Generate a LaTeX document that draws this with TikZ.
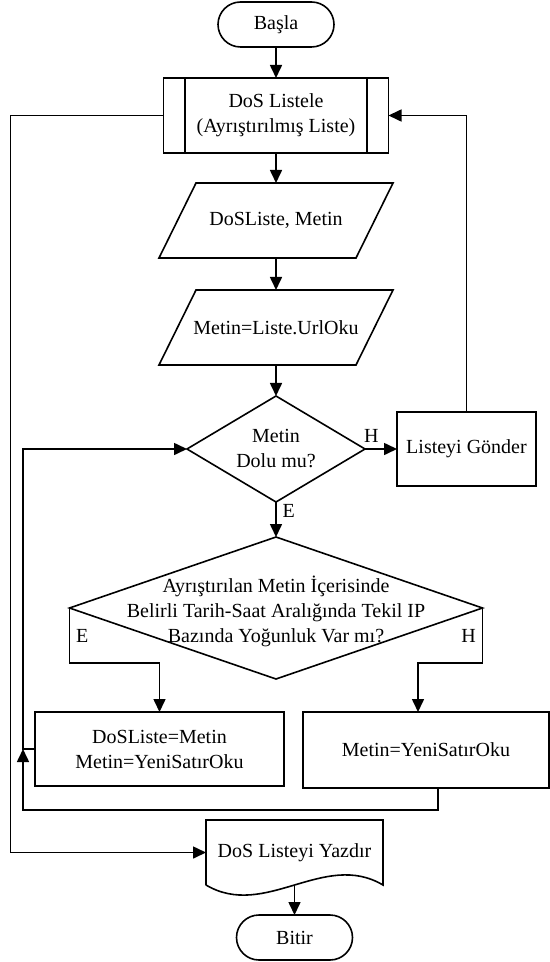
\documentclass[tikz,border=0pt]{standalone}
\usepackage{fontspec}
\setmainfont{Liberation Serif}
\usepackage{tikz}
\usetikzlibrary{positioning,arrows.meta,shapes.geometric}

\begin{document}
\begin{tikzpicture}[
  font=\fontsize{10}{12.5}\selectfont,
  line width=0.8pt,
  every node/.style={outer sep=0pt},
  term/.style={draw, rounded corners=11.25pt, minimum width=58pt, minimum height=22.5pt},
  block/.style={draw, align=center, minimum height=37pt},
  io/.style={minimum width=98.5pt, minimum height=37.5pt, inner sep=0pt},
  decision/.style={draw, diamond, align=center, inner sep=0pt},
  arrow/.style={-{Triangle[length=6.5pt,width=6pt]}}
]
\useasboundingbox (0,0) rectangle (275pt,-481pt);

\node[term] (start) at (138pt,-12.25pt) {Başla};
\node[block, minimum width=112.5pt, minimum height=37.5pt, below=15.5pt of start] (list) {DoS Listele\\(Ayrıştırılmış Liste)};
\node[io, below=15pt of list] (data1) {DoSListe, Metin};
\node[io, below=16pt of data1] (data2) {Metin=Liste.UrlOku};
\node[decision, aspect=1.68, minimum width=89pt, minimum height=53pt, below=15.5pt of data2] (check1) {Metin\\Dolu mu?};
\node[decision, minimum width=206.5pt, minimum height=71pt, below=17.5pt of check1,
  label={[align=center, yshift=-1.5pt]center:Ayrıştırılan Metin İçerisinde\\Belirli Tarih-Saat Aralığında Tekil IP\\Bazında Yoğunluk Var mı?}] (check2) {};
\node[block, minimum width=69.5pt, right=16pt of check1] (send) {Listeyi Gönder};
\node[block, minimum width=124.5pt, below=16.5pt of check2, xshift=-58.25pt] (act1) {DoSListe=Metin\\Metin=YeniSatırOku};
\node[block, minimum width=123pt, minimum height=38pt, below=16.5pt of check2, xshift=75pt] (act2) {Metin=YeniSatırOku};
\node[minimum width=88.5pt, minimum height=32.5pt, below=70.5pt of check2, xshift=9.25pt] (doc) {DoS Listeyi Yazdır};
\node[term, below=15pt of doc] (end) {Bitir};

% subprocess side bars
\draw ([xshift=10.75pt]list.north west) -- ([xshift=10.75pt]list.south west);
\draw ([xshift=-10.75pt]list.north east) -- ([xshift=-10.75pt]list.south east);
% data parallelograms
\foreach \n in {data1,data2}
  \draw ([xshift=9.25pt]\n.north west) -- ([xshift=9.25pt]\n.north east)
    -- ([xshift=-9.25pt]\n.south east) -- ([xshift=-9.25pt]\n.south west) -- cycle;
% document outline
\draw (doc.south west) -- (doc.north west) -- (doc.north east) -- (doc.south east)
  .. controls ([shift={(-29.5pt,17.5pt)}]doc.south east) and ([shift={(29.5pt,-17.5pt)}]doc.south west) .. (doc.south west);

\draw[arrow] (start) -- (list);
\draw[arrow] (list) -- (data1);
\draw[arrow] (data1) -- (data2);
\draw[arrow] (data2) -- (check1);
\draw[arrow] (check1) -- node[above, pos=0.2] {H} (send);
\draw[arrow] (send.north) |- (list.east);
\draw[arrow] (check1) -- node[right, pos=0.25] {E} (check2);
\draw[arrow] (check2.west) -- node[right] {E} ++(0,-27.5pt) -| (act1.north);
\draw[arrow] (check2.east) -- node[left] {H} ++(0,-27.5pt) -| ([xshift=-4pt]act2.north);
\draw[arrow] (act1.west) -- ++(-6pt,0) |- (check1.west);
\draw[arrow] ([xshift=6pt]act2.south) -- ++(0,-11pt) -| ([xshift=-6pt]act1.west);
\draw[arrow] (list.west) -- ++(-76.5pt,0) |- (doc.west);
\draw[arrow] (doc.south) -- (end);
\end{tikzpicture}
\end{document}
